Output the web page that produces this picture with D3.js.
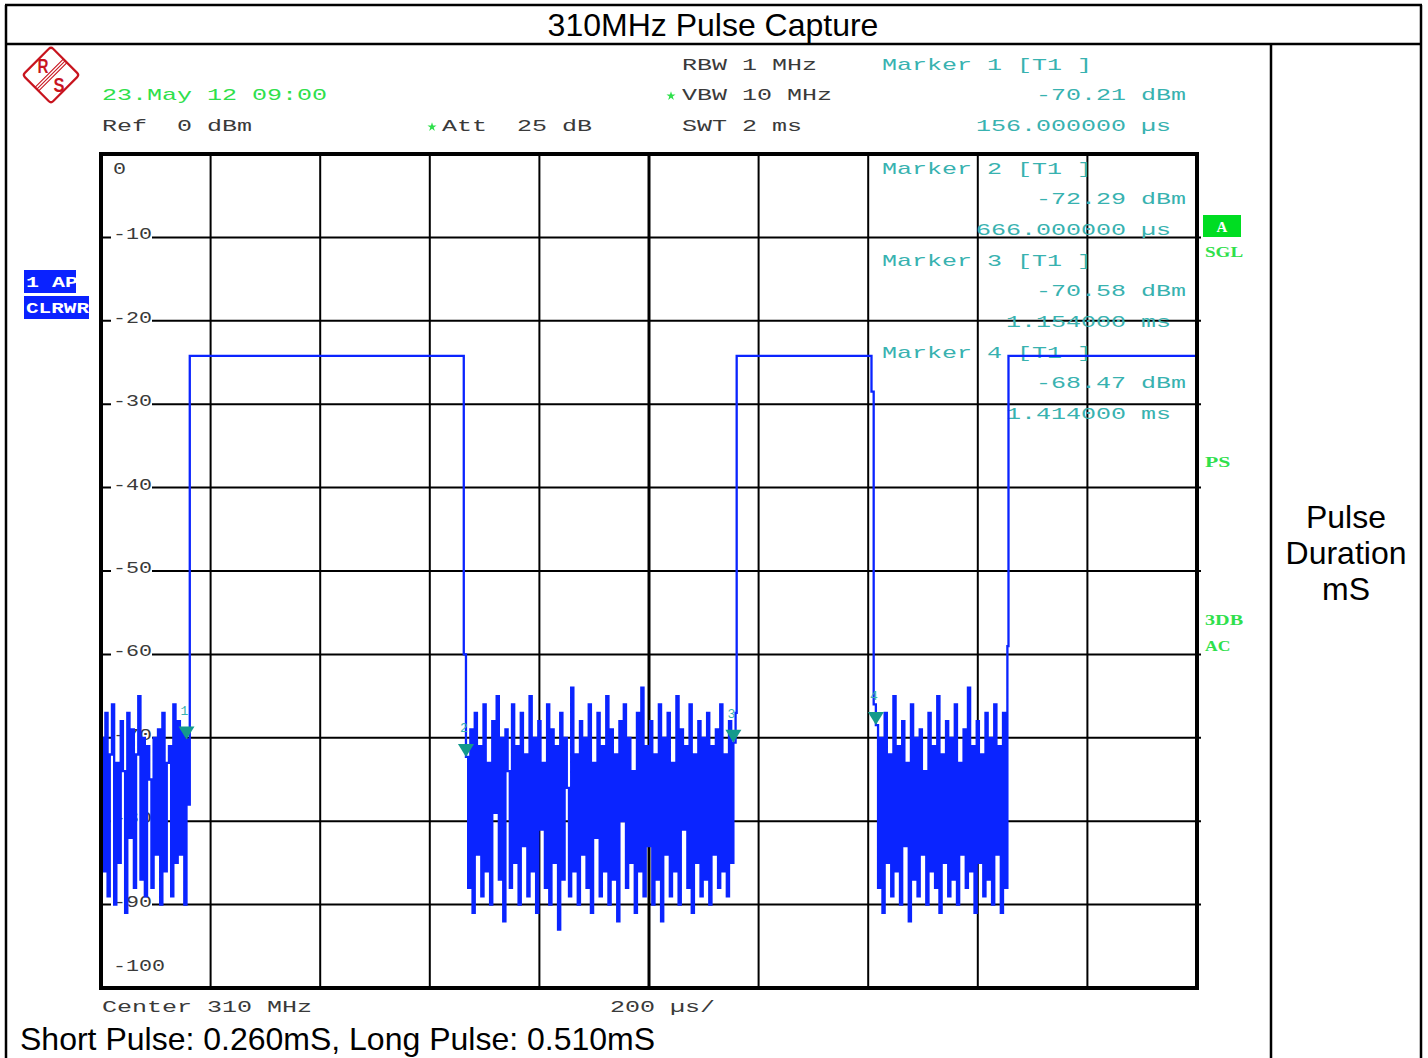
<!DOCTYPE html>
<html><head><meta charset="utf-8">
<script src="https://cdn.jsdelivr.net/npm/d3@7"></script>
<style>body{margin:0;background:#fff}svg{display:block}</style>
</head><body><svg id="c" width="1428" height="1058"></svg>
<script>
// ---------------- DATA ----------------
const yTicks = [0,-10,-20,-30,-40,-50,-60,-70,-80,-90,-100];          // dB
const xDivisions = [0,200,400,600,800,1000,1200,1400,1600,1800,2000]; // µs (200 µs/div)
const sampleStepUs = 4;
const pulseLevel = -24.2;
const pulses = [[162,660],[1160,1404],[1656,2000]];
const noiseAStart = 0;
const noiseA = [-70,-86,-67,-89,-72,-66,-90,-73,-85,-68,-74,-91,-67,-82,-69,-88,-72,-65,-87,-70,
  -89,-71,-75,-88,-70,-84,-69,-90,-67,-86,-73,-71,-89,-66,-85,-68,-84,-69,-90,-70.21,-78];
const noiseBStart = 662;
const noiseB = [-60,-72.29,-88,-69,-91,-67,-84,-71,-89,-66,-86,-73,-90,-68,-79,-65,-87,-70,-92,-69,
  -74,-88,-66,-85,-71,-90,-67,-83,-72,-89,-65,-86,-70,-91,-68,-81,-73,-88,-66,-90,
  -69,-85,-71,-93,-67,-87,-70,-76,-89,-64,-86,-72,-90,-68,-84,-70,-88,-66,-91,-73,
  -82,-67,-89,-71,-86,-65,-90,-69,-87,-72,-92,-68,-80,-66,-88,-70,-85,-74,-91,-67,
  -86,-64,-89,-71,-83,-68,-90,-72,-87,-66,-92,-70,-84,-67,-89,-73,-86,-65,-90,-69,
  -81,-71,-88,-66,-91,-72,-85,-68,-89,-70,-87,-67,-90,-71,-84,-69,-88,-66,-86,-72,
  -89,-68,-85,-70.58,-67];
const noiseCStart = 1406;
const noiseC = [-28.5,-66,-68.47,-88,-70,-91,-67,-85,-72,-89,-65,-86,-71,-90,-68,-83,-73,-92,-66,-87,
  -70,-89,-69,-84,-74,-90,-67,-86,-71,-88,-65,-91,-72,-85,-68,-89,-70,-87,-66,-90,
  -73,-84,-69,-88,-64,-86,-71,-91,-68,-85,-72,-89,-67,-87,-70,-90,-66,-84,-71,-91,-67,-88,-59];
const markers = [
  {n:"1", t:156,  v:-70.21, lines:["Marker 1 [T1 ]","-70.21 dBm","156.000000 µs"]},
  {n:"2", t:666,  v:-72.29, lines:["Marker 2 [T1 ]","-72.29 dBm","666.000000 µs"]},
  {n:"3", t:1154, v:-70.58, lines:["Marker 3 [T1 ]","-70.58 dBm","1.154000 ms"]},
  {n:"4", t:1414, v:-68.47, lines:["Marker 4 [T1 ]","-68.47 dBm","1.414000 ms"]}
];
const title = "310MHz Pulse Capture";
const sideLabel = ["Pulse","Duration","mS"];
const footer = "Short Pulse: 0.260mS, Long Pulse: 0.510mS";

// ---------------- LAYOUT ----------------
const svg = d3.select("#c");
const x = d3.scaleLinear().domain([0,2000]).range([101,1197]);
const y = d3.scaleLinear().domain([0,-100]).range([154,988]);
const DARK = "#3a3a3a", GREEN = "#2fe04c", TEAL = "#38b2b0", TRI = "#149a8c", BLUE = "#0a24ff";

function mono(px, py, str, color, adv, size, weight){
  return svg.append("text").attr("x",px).attr("y",py)
    .attr("font-family","'Liberation Mono', monospace").attr("font-size",size||17)
    .attr("font-weight",weight||"normal")
    .attr("fill",color).attr("textLength",(adv||15)*str.length).attr("lengthAdjust","spacingAndGlyphs")
    .style("white-space","pre").text(str);
}

// outer table
const frame = svg.append("g").attr("stroke","#000").attr("stroke-width",2.5).attr("fill","none");
frame.append("line").attr("x1",5).attr("x2",1422).attr("y1",5).attr("y2",5);
frame.append("line").attr("x1",6).attr("x2",6).attr("y1",5).attr("y2",1058);
frame.append("line").attr("x1",1421).attr("x2",1421).attr("y1",5).attr("y2",1058);
frame.append("line").attr("x1",6).attr("x2",1421).attr("y1",44).attr("y2",44);
frame.append("line").attr("x1",1271).attr("x2",1271).attr("y1",44).attr("y2",1058);

svg.append("text").attr("x",713).attr("y",36).attr("text-anchor","middle")
  .attr("font-family","'Liberation Sans', Arial").attr("font-size",32).text(title);
sideLabel.forEach((s,i)=>svg.append("text").attr("x",1346).attr("y",528+i*36).attr("text-anchor","middle")
  .attr("font-family","'Liberation Sans', Arial").attr("font-size",32).text(s));
svg.append("text").attr("x",20).attr("y",1050)
  .attr("font-family","'Liberation Sans', Arial").attr("font-size",32).text(footer);

// logo
const lg = svg.append("g").attr("transform","translate(51,75) rotate(45)");
lg.append("rect").attr("x",-20).attr("y",-20).attr("width",40).attr("height",40).attr("rx",3)
  .attr("fill","none").attr("stroke","#c8141e").attr("stroke-width",2.2);
[-2.6,0,2.6].forEach(d=>lg.append("line").attr("x1",d).attr("x2",d).attr("y1",-20).attr("y2",20)
  .attr("stroke","#c8141e").attr("stroke-width",1.1));
svg.append("text").attr("x",43).attr("y",73).attr("text-anchor","middle").attr("font-family","'Liberation Sans'")
  .attr("font-weight","bold").attr("font-size",20).attr("fill","#c8141e").attr("textLength",11).attr("lengthAdjust","spacingAndGlyphs").text("R");
svg.append("text").attr("x",59).attr("y",92).attr("text-anchor","middle").attr("font-family","'Liberation Sans'")
  .attr("font-weight","bold").attr("font-size",20).attr("fill","#c8141e").attr("textLength",11).attr("lengthAdjust","spacingAndGlyphs").text("S");

// header text
mono(102,100,"23.May 12 09:00",GREEN);
mono(102,131,"Ref  0 dBm",DARK);
mono(442,131,"Att  25 dB",DARK);
mono(682,70,"RBW 1 MHz",DARK);
mono(682,100,"VBW 10 MHz",DARK);
mono(682,131,"SWT 2 ms",DARK);
const star = d3.symbol().type(d3.symbolStar).size(26);
[[432,127],[671,96]].forEach(p=>svg.append("path").attr("d",star()).attr("transform",`translate(${p[0]},${p[1]})`).attr("fill",GREEN));

// side boxes
svg.append("rect").attr("x",24).attr("y",270).attr("width",52).attr("height",23).attr("fill","#0a22ff");
svg.append("rect").attr("x",24).attr("y",296).attr("width",65).attr("height",23).attr("fill","#0a22ff");
mono(26,287,"1 AP","#fff",13,15,"bold");
mono(26,313,"CLRWR","#fff",12.6,15,"bold");
svg.append("rect").attr("x",1203).attr("y",215).attr("width",38).attr("height",22).attr("fill","#00dd22");
svg.append("text").attr("x",1222).attr("y",232).attr("text-anchor","middle").attr("font-family","'Liberation Serif'")
  .attr("font-weight","bold").attr("font-size",15).attr("fill","#fff").text("A");
[["SGL",257],["PS",467],["3DB",625],["AC",651]].forEach(d=>
  svg.append("text").attr("x",1205).attr("y",d[1]).attr("font-family","'Liberation Serif', serif")
    .attr("font-weight","bold").attr("font-size",15).attr("fill",GREEN)
    .attr("textLength",12.7*d[0].length).attr("lengthAdjust","spacingAndGlyphs").text(d[0]));

// grid
const grid = svg.append("g").attr("stroke","#000");
xDivisions.slice(1,-1).forEach(t=>grid.append("line").attr("x1",x(t)).attr("x2",x(t)).attr("y1",y(0)).attr("y2",y(-100))
  .attr("stroke-width",t===1000?3:2));
yTicks.slice(1,-1).forEach(v=>grid.append("line").attr("x1",x(0)).attr("x2",x(2000)+4).attr("y1",y(v)).attr("y2",y(v))
  .attr("stroke-width",2));

// tick labels
yTicks.forEach(v=>{
  const s = String(v);
  let by = y(v)+2;
  if (v===0) by = y(0)+20;
  if (v===-100) by = y(-100)-17;
  if (v!==0 && v!==-100)
    svg.append("rect").attr("x",111).attr("y",y(v)-3).attr("width",s.length*13+2).attr("height",6).attr("fill","#fff");
  mono(113,by,s,"#3a3a3a",13);
});

// marker readouts
const rowTops = [70,174,266,358];
markers.forEach((m,i)=>{
  mono(882,rowTops[i],m.lines[0],TEAL);
  mono(1036,rowTops[i]+30,m.lines[1],TEAL);
  mono(m.lines[2].length===13?976:1006,rowTops[i]+61,m.lines[2],TEAL);
});

// bottom axis labels
mono(102,1012,"Center 310 MHz",DARK);
mono(610,1012,"200 µs/",DARK);

// trace
const trace = [];
function addNoise(start, vals){ vals.forEach((v,i)=>trace.push([start+i*sampleStepUs, v])); }
function addPulse(p){ trace.push([p[0],pulseLevel],[p[1],pulseLevel]); }
addNoise(noiseAStart, noiseA); addPulse(pulses[0]);
addNoise(noiseBStart, noiseB); addPulse(pulses[1]);
addNoise(noiseCStart, noiseC); addPulse(pulses[2]);

svg.append("clipPath").attr("id","plotclip").append("rect")
  .attr("x",x(0)).attr("y",y(0)).attr("width",x(2000)-x(0)).attr("height",y(-100)-y(0));
const line = d3.line().x(d=>x(d[0])).y(d=>y(d[1])).curve(d3.curveStepAfter);
svg.append("path").datum(trace).attr("d",line).attr("clip-path","url(#plotclip)")
  .attr("fill","none").attr("stroke",BLUE).attr("stroke-width",2.3);

// marker triangles
markers.forEach(m=>{
  const tx = x(m.t), ty = y(m.v);
  svg.append("path").attr("d",`M${tx-8},${ty-13}L${tx+8},${ty-13}L${tx},${ty}Z`).attr("fill",TRI);
  svg.append("text").attr("x",tx-2).attr("y",ty-25).attr("text-anchor","middle")
    .attr("font-family","'Liberation Mono'").attr("font-size",13).attr("fill",TEAL).text(m.n);
});

// plot border
svg.append("rect").attr("x",x(0)).attr("y",y(0)).attr("width",x(2000)-x(0)).attr("height",y(-100)-y(0))
  .attr("fill","none").attr("stroke","#000").attr("stroke-width",4);
</script></body></html>
